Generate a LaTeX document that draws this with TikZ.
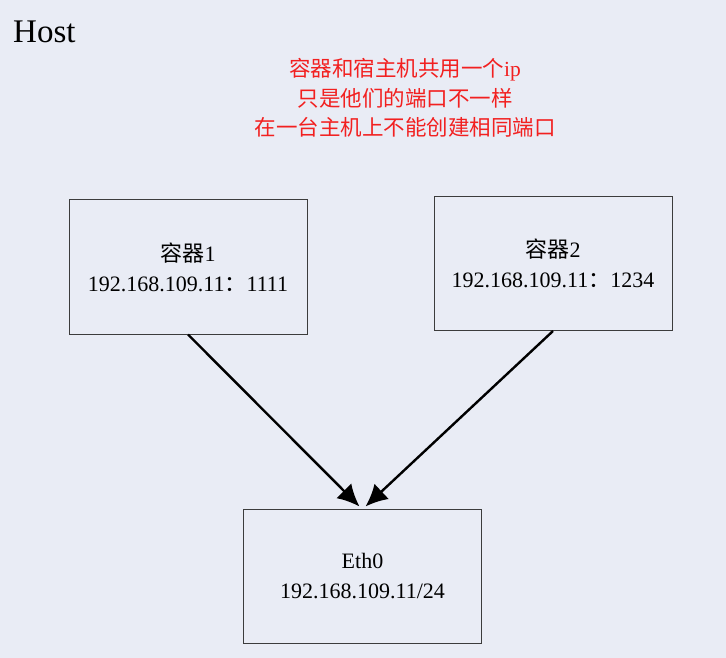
\documentclass[tikz,border=0pt]{standalone}
\usepackage{fontspec}
\setmainfont{Liberation Serif}
\newfontfamily\cjk{Noto Sans CJK SC}
\usepackage{tikz}
\usetikzlibrary{arrows.meta,positioning}
\definecolor{hostbg}{RGB}{233,236,245}
\definecolor{notered}{RGB}{242,32,32}
\definecolor{boxline}{RGB}{60,60,60}

\begin{document}
\begin{tikzpicture}[x=1pt, y=-1pt,
    box/.style={rectangle, draw=boxline, line width=1pt, minimum width=238pt, minimum height=134pt, inner sep=0pt, align=center, font=\fontsize{22}{30}\selectfont},
    link/.style={draw, -{Latex[length=22pt,width=21pt]}, line width=2.4pt}]

    \fill [hostbg] (0,0) rectangle (726,658);
    \useasboundingbox (0,0) rectangle (726,658);

    \node [anchor=base west, inner sep=0pt, font=\fontsize{33}{36}\selectfont] (host) at (13,43) {Host};
    \node [text=notered, align=center, font=\fontsize{21.5}{29.5}\cjk\selectfont] (note) at (405,98) {容器和宿主机共用一个{\rmfamily ip}\\只是他们的端口不一样\\在一台主机上不能创建相同端口};

    \node [box] (c1) at (188,267) {{\cjk 容器}1\\192.168.109.11{\cjk ：}1111};
    \node [box] (c2) at (553,263.5) {{\cjk 容器}2\\192.168.109.11{\cjk ：}1234};
    \node [box] (eth) at (362.5,576) {Eth0\\192.168.109.11/24};

    \draw [link] (c1.south) -- ([xshift=-3pt,yshift=2pt]eth.north);
    \draw [link] (c2.south) -- ([xshift=3pt,yshift=2pt]eth.north);
\end{tikzpicture}
\end{document}
